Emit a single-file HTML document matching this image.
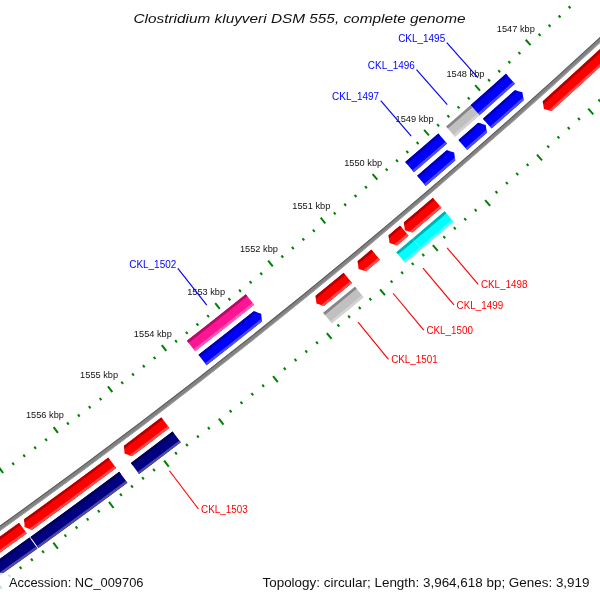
<!DOCTYPE html>
<html><head><meta charset="utf-8"><style>html,body{margin:0;padding:0;background:#fff;width:600px;height:600px;overflow:hidden}svg{display:block;will-change:transform}</style></head>
<body><svg width="600" height="600" viewBox="0 0 600 600">
<defs><clipPath id="c0"><path d="M698.13,-43.48 A6182.20,6182.20 0 0 1 542.71,101.16 L543.95,108.99 L551.60,111.05 A6195.50,6195.50 0 0 0 707.35,-33.90 Z"/></clipPath><clipPath id="c1"><path d="M432.83,197.63 A6182.20,6182.20 0 0 1 403.86,222.31 L404.86,230.17 L412.45,232.46 A6195.50,6195.50 0 0 0 441.48,207.72 Z"/></clipPath><clipPath id="c2"><path d="M400.04,225.54 A6182.20,6182.20 0 0 1 388.55,235.22 L389.53,243.09 L397.11,245.40 A6195.50,6195.50 0 0 0 408.62,235.70 Z"/></clipPath><clipPath id="c3"><path d="M371.43,249.57 A6182.20,6182.20 0 0 1 357.65,261.04 L358.58,268.91 L366.15,271.27 A6195.50,6195.50 0 0 0 379.96,259.78 Z"/></clipPath><clipPath id="c4"><path d="M343.61,272.66 A6182.20,6182.20 0 0 1 315.58,295.65 L316.44,303.52 L323.98,305.96 A6195.50,6195.50 0 0 0 352.08,282.92 Z"/></clipPath><clipPath id="c5"><path d="M161.33,417.36 A6182.20,6182.20 0 0 1 123.97,445.67 L124.52,453.57 L131.96,456.30 A6195.50,6195.50 0 0 0 169.40,427.93 Z"/></clipPath><clipPath id="c6"><path d="M108.26,457.44 A6182.20,6182.20 0 0 1 24.20,519.11 L24.59,527.02 L31.98,529.90 A6195.50,6195.50 0 0 0 116.22,468.09 Z"/></clipPath><clipPath id="c7"><path d="M19.08,522.80 A6182.20,6182.20 0 0 1 -109.22,612.63 L-109.04,620.56 L-101.73,623.63 A6195.50,6195.50 0 0 0 26.85,533.59 Z"/></clipPath><clipPath id="c14"><path d="M482.80,118.64 A6155.40,6155.40 0 0 0 514.77,90.22 L522.40,92.31 L523.64,100.13 A6168.70,6168.70 0 0 1 491.60,128.61 Z"/></clipPath><clipPath id="c15"><path d="M458.37,140.09 A6155.40,6155.40 0 0 0 478.08,122.80 L485.70,124.95 L486.88,132.78 A6168.70,6168.70 0 0 1 467.12,150.11 Z"/></clipPath><clipPath id="c16"><path d="M417.05,175.85 A6155.40,6155.40 0 0 0 446.56,150.37 L454.17,152.58 L455.29,160.41 A6168.70,6168.70 0 0 1 425.71,185.95 Z"/></clipPath><clipPath id="c17"><path d="M198.41,354.86 A6155.40,6155.40 0 0 0 253.65,311.21 L261.15,313.72 L261.95,321.59 A6168.70,6168.70 0 0 1 206.60,365.34 Z"/></clipPath></defs>
<rect width="600" height="600" fill="#fff"/>
<g stroke="#008000" stroke-width="2"><line x1="911.05" y1="-342.48" x2="916.41" y2="-337.53"/><line x1="979.47" y1="-279.35" x2="985.06" y2="-274.19"/><line x1="904.99" y1="-329.59" x2="907.04" y2="-327.69"/><line x1="970.12" y1="-269.23" x2="972.17" y2="-267.32"/><line x1="895.74" y1="-319.64" x2="897.79" y2="-317.73"/><line x1="960.74" y1="-259.13" x2="962.79" y2="-257.22"/><line x1="886.48" y1="-309.70" x2="888.52" y2="-307.79"/><line x1="951.34" y1="-249.05" x2="953.38" y2="-247.14"/><line x1="877.19" y1="-299.79" x2="879.23" y2="-297.88"/><line x1="941.92" y1="-239.00" x2="943.96" y2="-237.08"/><line x1="864.75" y1="-292.85" x2="870.06" y2="-287.84"/><line x1="932.47" y1="-228.96" x2="938.00" y2="-223.75"/><line x1="858.54" y1="-280.03" x2="860.58" y2="-278.10"/><line x1="923.00" y1="-218.95" x2="925.03" y2="-217.03"/><line x1="849.19" y1="-270.18" x2="851.22" y2="-268.25"/><line x1="913.51" y1="-208.96" x2="915.54" y2="-207.03"/><line x1="839.81" y1="-260.35" x2="841.84" y2="-258.42"/><line x1="904.00" y1="-198.99" x2="906.02" y2="-197.05"/><line x1="830.42" y1="-250.54" x2="832.44" y2="-248.60"/><line x1="894.47" y1="-189.04" x2="896.49" y2="-187.10"/><line x1="817.90" y1="-243.74" x2="823.16" y2="-238.67"/><line x1="884.91" y1="-179.11" x2="890.38" y2="-173.83"/><line x1="811.56" y1="-230.99" x2="813.57" y2="-229.04"/><line x1="875.33" y1="-169.20" x2="877.34" y2="-167.25"/><line x1="802.09" y1="-221.24" x2="804.10" y2="-219.29"/><line x1="865.73" y1="-159.31" x2="867.74" y2="-157.36"/><line x1="792.61" y1="-211.52" x2="794.61" y2="-209.56"/><line x1="856.11" y1="-149.45" x2="858.11" y2="-147.49"/><line x1="783.10" y1="-201.82" x2="785.10" y2="-199.85"/><line x1="846.47" y1="-139.60" x2="848.46" y2="-137.64"/><line x1="770.51" y1="-195.15" x2="775.71" y2="-190.03"/><line x1="836.80" y1="-129.78" x2="842.21" y2="-124.44"/><line x1="764.03" y1="-182.47" x2="766.02" y2="-180.50"/><line x1="827.11" y1="-119.98" x2="829.10" y2="-118.01"/><line x1="754.46" y1="-172.83" x2="756.44" y2="-170.86"/><line x1="817.41" y1="-110.20" x2="819.39" y2="-108.23"/><line x1="744.86" y1="-163.21" x2="746.84" y2="-161.23"/><line x1="807.67" y1="-100.44" x2="809.66" y2="-98.46"/><line x1="735.25" y1="-153.62" x2="737.23" y2="-151.63"/><line x1="797.92" y1="-90.71" x2="799.90" y2="-88.72"/><line x1="722.59" y1="-147.09" x2="727.73" y2="-141.91"/><line x1="788.15" y1="-80.99" x2="793.50" y2="-75.59"/><line x1="715.96" y1="-134.49" x2="717.93" y2="-132.49"/><line x1="778.35" y1="-71.30" x2="780.32" y2="-69.30"/><line x1="706.29" y1="-124.95" x2="708.25" y2="-122.95"/><line x1="768.54" y1="-61.63" x2="770.50" y2="-59.63"/><line x1="696.59" y1="-115.44" x2="698.55" y2="-113.44"/><line x1="758.70" y1="-51.98" x2="760.66" y2="-49.97"/><line x1="686.87" y1="-105.95" x2="688.82" y2="-103.94"/><line x1="748.84" y1="-42.35" x2="750.79" y2="-40.34"/><line x1="674.14" y1="-99.57" x2="679.22" y2="-94.33"/><line x1="738.96" y1="-32.74" x2="744.25" y2="-27.29"/><line x1="667.37" y1="-87.03" x2="669.31" y2="-85.02"/><line x1="729.06" y1="-23.16" x2="731.00" y2="-21.14"/><line x1="657.59" y1="-77.61" x2="659.53" y2="-75.59"/><line x1="719.13" y1="-13.60" x2="721.07" y2="-11.58"/><line x1="647.79" y1="-68.20" x2="649.72" y2="-66.18"/><line x1="709.19" y1="-4.06" x2="711.13" y2="-2.03"/><line x1="637.96" y1="-58.82" x2="639.89" y2="-56.79"/><line x1="699.22" y1="5.46" x2="701.16" y2="7.49"/><line x1="625.16" y1="-52.58" x2="630.18" y2="-47.28"/><line x1="689.24" y1="14.96" x2="694.47" y2="20.47"/><line x1="618.25" y1="-40.12" x2="620.18" y2="-38.09"/><line x1="679.23" y1="24.43" x2="681.15" y2="26.47"/><line x1="608.37" y1="-30.81" x2="610.29" y2="-28.77"/><line x1="669.20" y1="33.88" x2="671.12" y2="35.92"/><line x1="598.46" y1="-21.51" x2="600.38" y2="-19.47"/><line x1="659.15" y1="43.31" x2="661.07" y2="45.36"/><line x1="588.54" y1="-12.24" x2="590.44" y2="-10.19"/><line x1="649.08" y1="52.72" x2="650.99" y2="54.77"/><line x1="575.66" y1="-6.14" x2="580.63" y2="-0.79"/><line x1="638.99" y1="62.11" x2="644.16" y2="67.68"/><line x1="568.62" y1="6.24" x2="570.52" y2="8.30"/><line x1="628.88" y1="71.47" x2="630.78" y2="73.52"/><line x1="558.63" y1="15.45" x2="560.53" y2="17.51"/><line x1="618.75" y1="80.81" x2="620.64" y2="82.87"/><line x1="548.62" y1="24.63" x2="550.52" y2="26.70"/><line x1="608.59" y1="90.12" x2="610.48" y2="92.19"/><line x1="538.60" y1="33.79" x2="540.48" y2="35.86"/><line x1="598.42" y1="99.42" x2="600.30" y2="101.49"/><line x1="525.66" y1="39.75" x2="530.56" y2="45.16"/><line x1="588.22" y1="108.69" x2="593.33" y2="114.32"/><line x1="518.48" y1="52.05" x2="520.35" y2="54.13"/><line x1="578.01" y1="117.94" x2="579.89" y2="120.02"/><line x1="508.39" y1="61.15" x2="510.26" y2="63.23"/><line x1="567.77" y1="127.17" x2="569.65" y2="129.25"/><line x1="498.28" y1="70.22" x2="500.15" y2="72.31"/><line x1="557.52" y1="136.37" x2="559.38" y2="138.46"/><line x1="488.15" y1="79.27" x2="490.01" y2="81.36"/><line x1="547.24" y1="145.55" x2="549.10" y2="147.64"/><line x1="475.15" y1="85.08" x2="479.99" y2="90.54"/><line x1="536.94" y1="154.71" x2="541.99" y2="160.40"/><line x1="467.83" y1="97.30" x2="469.68" y2="99.40"/><line x1="526.63" y1="163.85" x2="528.48" y2="165.95"/><line x1="457.64" y1="106.29" x2="459.49" y2="108.39"/><line x1="516.29" y1="172.96" x2="518.14" y2="175.07"/><line x1="447.43" y1="115.25" x2="449.28" y2="117.35"/><line x1="505.93" y1="182.05" x2="507.78" y2="184.16"/><line x1="437.20" y1="124.18" x2="439.04" y2="126.30"/><line x1="495.55" y1="191.12" x2="497.39" y2="193.23"/><line x1="424.13" y1="129.85" x2="428.92" y2="135.37"/><line x1="485.16" y1="200.16" x2="490.14" y2="205.90"/><line x1="416.68" y1="141.99" x2="418.51" y2="144.11"/><line x1="474.74" y1="209.19" x2="476.57" y2="211.30"/><line x1="406.40" y1="150.86" x2="408.22" y2="152.98"/><line x1="464.30" y1="218.18" x2="466.13" y2="220.31"/><line x1="396.09" y1="159.71" x2="397.91" y2="161.83"/><line x1="453.84" y1="227.16" x2="455.67" y2="229.28"/><line x1="385.76" y1="168.53" x2="387.58" y2="170.66"/><line x1="443.37" y1="236.11" x2="445.18" y2="238.24"/><line x1="372.63" y1="174.05" x2="377.35" y2="179.62"/><line x1="432.87" y1="245.04" x2="437.79" y2="250.83"/><line x1="365.05" y1="186.11" x2="366.85" y2="188.25"/><line x1="422.35" y1="253.94" x2="424.16" y2="256.08"/><line x1="354.66" y1="194.87" x2="356.46" y2="197.01"/><line x1="411.82" y1="262.83" x2="413.62" y2="264.97"/><line x1="344.25" y1="203.60" x2="346.05" y2="205.74"/><line x1="401.26" y1="271.68" x2="403.06" y2="273.83"/><line x1="333.83" y1="212.31" x2="335.62" y2="214.46"/><line x1="390.69" y1="280.52" x2="392.48" y2="282.67"/><line x1="320.64" y1="217.68" x2="325.30" y2="223.30"/><line x1="380.09" y1="289.33" x2="384.94" y2="295.18"/><line x1="312.92" y1="229.65" x2="314.71" y2="231.81"/><line x1="369.47" y1="298.12" x2="371.26" y2="300.28"/><line x1="302.44" y1="238.29" x2="304.22" y2="240.46"/><line x1="358.84" y1="306.88" x2="360.62" y2="309.05"/><line x1="291.94" y1="246.91" x2="293.71" y2="249.08"/><line x1="348.19" y1="315.62" x2="349.96" y2="317.79"/><line x1="281.42" y1="255.50" x2="283.19" y2="257.67"/><line x1="337.51" y1="324.34" x2="339.28" y2="326.51"/><line x1="268.17" y1="260.73" x2="272.77" y2="266.40"/><line x1="326.82" y1="333.03" x2="331.61" y2="338.94"/><line x1="260.32" y1="272.62" x2="262.08" y2="274.80"/><line x1="316.11" y1="341.70" x2="317.87" y2="343.88"/><line x1="249.74" y1="281.14" x2="251.50" y2="283.32"/><line x1="305.38" y1="350.35" x2="307.13" y2="352.53"/><line x1="239.15" y1="289.64" x2="240.89" y2="291.83"/><line x1="294.63" y1="358.97" x2="296.38" y2="361.16"/><line x1="228.53" y1="298.12" x2="230.27" y2="300.31"/><line x1="283.86" y1="367.57" x2="285.60" y2="369.76"/><line x1="215.22" y1="303.20" x2="219.76" y2="308.92"/><line x1="273.07" y1="376.15" x2="277.79" y2="382.10"/><line x1="207.24" y1="315.00" x2="208.98" y2="317.19"/><line x1="262.27" y1="384.70" x2="264.00" y2="386.89"/><line x1="196.57" y1="323.40" x2="198.30" y2="325.60"/><line x1="251.44" y1="393.22" x2="253.17" y2="395.42"/><line x1="185.88" y1="331.78" x2="187.61" y2="333.99"/><line x1="240.59" y1="401.73" x2="242.32" y2="403.93"/><line x1="175.17" y1="340.14" x2="176.89" y2="342.35"/><line x1="229.73" y1="410.20" x2="231.45" y2="412.41"/><line x1="161.81" y1="345.08" x2="166.28" y2="350.85"/><line x1="218.85" y1="418.66" x2="223.50" y2="424.67"/><line x1="153.70" y1="356.78" x2="155.41" y2="359.00"/><line x1="207.95" y1="427.09" x2="209.66" y2="429.31"/><line x1="142.94" y1="365.07" x2="144.64" y2="367.29"/><line x1="197.03" y1="435.50" x2="198.73" y2="437.72"/><line x1="132.16" y1="373.33" x2="133.86" y2="375.56"/><line x1="186.09" y1="443.88" x2="187.79" y2="446.10"/><line x1="121.35" y1="381.57" x2="123.05" y2="383.80"/><line x1="175.13" y1="452.23" x2="176.83" y2="454.46"/><line x1="107.94" y1="386.36" x2="112.35" y2="392.18"/><line x1="164.16" y1="460.57" x2="168.75" y2="466.63"/><line x1="99.70" y1="397.98" x2="101.38" y2="400.21"/><line x1="153.16" y1="468.88" x2="154.85" y2="471.11"/><line x1="88.84" y1="406.14" x2="90.53" y2="408.38"/><line x1="142.15" y1="477.16" x2="143.83" y2="479.40"/><line x1="77.97" y1="414.28" x2="79.65" y2="416.53"/><line x1="131.12" y1="485.42" x2="132.80" y2="487.67"/><line x1="67.08" y1="422.40" x2="68.75" y2="424.65"/><line x1="120.07" y1="493.66" x2="121.74" y2="495.91"/><line x1="53.61" y1="427.04" x2="57.96" y2="432.91"/><line x1="109.00" y1="501.87" x2="113.53" y2="507.98"/><line x1="45.24" y1="438.57" x2="46.91" y2="440.82"/><line x1="97.92" y1="510.06" x2="99.58" y2="512.31"/><line x1="34.30" y1="446.61" x2="35.96" y2="448.87"/><line x1="86.82" y1="518.22" x2="88.47" y2="520.48"/><line x1="23.34" y1="454.63" x2="24.99" y2="456.89"/><line x1="75.69" y1="526.36" x2="77.35" y2="528.62"/><line x1="12.36" y1="462.63" x2="14.00" y2="464.90"/><line x1="64.55" y1="534.47" x2="66.20" y2="536.73"/><line x1="-1.16" y1="467.12" x2="3.12" y2="473.03"/><line x1="53.40" y1="542.56" x2="57.85" y2="548.72"/><line x1="-9.66" y1="478.55" x2="-8.02" y2="480.82"/><line x1="42.22" y1="550.62" x2="43.86" y2="552.89"/><line x1="-20.69" y1="486.48" x2="-19.06" y2="488.75"/><line x1="31.03" y1="558.66" x2="32.66" y2="560.94"/><line x1="-31.74" y1="494.37" x2="-30.12" y2="496.65"/><line x1="19.82" y1="566.67" x2="21.44" y2="568.95"/><line x1="-42.81" y1="502.25" x2="-41.19" y2="504.53"/><line x1="8.59" y1="574.66" x2="10.21" y2="576.95"/><line x1="-56.38" y1="506.59" x2="-52.16" y2="512.55"/><line x1="-2.66" y1="582.63" x2="1.73" y2="588.83"/><line x1="-65.00" y1="517.93" x2="-63.39" y2="520.22"/><line x1="-13.92" y1="590.56" x2="-12.31" y2="592.86"/><line x1="-76.12" y1="525.73" x2="-74.51" y2="528.02"/><line x1="-25.20" y1="598.48" x2="-23.60" y2="600.77"/><line x1="-87.26" y1="533.50" x2="-85.66" y2="535.80"/><line x1="-36.50" y1="606.37" x2="-34.90" y2="608.67"/><line x1="-98.41" y1="541.25" x2="-96.82" y2="543.56"/><line x1="-47.82" y1="614.23" x2="-46.22" y2="616.53"/><line x1="-112.03" y1="545.44" x2="-107.88" y2="551.45"/><line x1="-59.15" y1="622.07" x2="-54.84" y2="628.33"/><line x1="-120.77" y1="556.68" x2="-119.19" y2="558.99"/><line x1="-70.50" y1="629.88" x2="-68.92" y2="632.19"/><line x1="-131.98" y1="564.36" x2="-130.40" y2="566.67"/><line x1="-81.87" y1="637.67" x2="-80.29" y2="639.99"/><line x1="-143.20" y1="572.01" x2="-141.63" y2="574.33"/><line x1="-93.26" y1="645.44" x2="-91.68" y2="647.75"/><line x1="-154.44" y1="579.64" x2="-152.87" y2="581.96"/><line x1="-104.66" y1="653.18" x2="-103.09" y2="655.49"/><line x1="-168.10" y1="583.68" x2="-164.02" y2="589.73"/><line x1="-116.08" y1="660.89" x2="-111.83" y2="667.19"/><line x1="-176.97" y1="594.82" x2="-175.41" y2="597.15"/><line x1="-127.52" y1="668.58" x2="-125.96" y2="670.90"/><line x1="-188.26" y1="602.37" x2="-186.71" y2="604.70"/><line x1="-138.97" y1="676.24" x2="-137.42" y2="678.57"/><line x1="-199.57" y1="609.90" x2="-198.02" y2="612.23"/><line x1="-150.44" y1="683.87" x2="-148.89" y2="686.21"/><line x1="-210.89" y1="617.41" x2="-209.35" y2="619.74"/><line x1="-161.93" y1="691.49" x2="-160.39" y2="693.82"/><line x1="-224.60" y1="621.29" x2="-220.59" y2="627.39"/><line x1="-173.43" y1="699.07" x2="-169.26" y2="705.42"/><line x1="-233.59" y1="632.33" x2="-232.06" y2="634.68"/><line x1="-184.96" y1="706.63" x2="-183.42" y2="708.97"/><line x1="-244.97" y1="639.76" x2="-243.44" y2="642.11"/><line x1="-196.49" y1="714.17" x2="-194.97" y2="716.51"/><line x1="-256.36" y1="647.16" x2="-254.83" y2="649.51"/><line x1="-208.05" y1="721.68" x2="-206.53" y2="724.03"/><line x1="-267.76" y1="654.54" x2="-266.24" y2="656.89"/><line x1="-219.62" y1="729.16" x2="-218.10" y2="731.51"/><line x1="-281.51" y1="658.27" x2="-277.56" y2="664.42"/><line x1="-231.21" y1="736.62" x2="-227.10" y2="743.01"/><line x1="-290.62" y1="669.22" x2="-289.12" y2="671.58"/><line x1="-242.81" y1="744.05" x2="-241.31" y2="746.41"/><line x1="-302.08" y1="676.52" x2="-300.58" y2="678.88"/><line x1="-254.43" y1="751.46" x2="-252.93" y2="753.82"/><line x1="-313.55" y1="683.79" x2="-312.05" y2="686.16"/><line x1="-266.07" y1="758.84" x2="-264.58" y2="761.20"/><line x1="-325.04" y1="691.04" x2="-323.54" y2="693.41"/><line x1="-277.73" y1="766.19" x2="-276.23" y2="768.56"/></g>
<g font-family="Liberation Sans" font-size="9" fill="#111"><text x="515.85" y="31.94" text-anchor="middle" textLength="38" lengthAdjust="spacingAndGlyphs">1547 kbp</text><text x="465.45" y="77.16" text-anchor="middle" textLength="38" lengthAdjust="spacingAndGlyphs">1548 kbp</text><text x="414.56" y="121.83" text-anchor="middle" textLength="38" lengthAdjust="spacingAndGlyphs">1549 kbp</text><text x="363.18" y="165.92" text-anchor="middle" textLength="38" lengthAdjust="spacingAndGlyphs">1550 kbp</text><text x="311.32" y="209.45" text-anchor="middle" textLength="38" lengthAdjust="spacingAndGlyphs">1551 kbp</text><text x="258.97" y="252.39" text-anchor="middle" textLength="38" lengthAdjust="spacingAndGlyphs">1552 kbp</text><text x="206.15" y="294.76" text-anchor="middle" textLength="38" lengthAdjust="spacingAndGlyphs">1553 kbp</text><text x="152.87" y="336.54" text-anchor="middle" textLength="38" lengthAdjust="spacingAndGlyphs">1554 kbp</text><text x="99.12" y="377.72" text-anchor="middle" textLength="38" lengthAdjust="spacingAndGlyphs">1555 kbp</text><text x="44.93" y="418.31" text-anchor="middle" textLength="38" lengthAdjust="spacingAndGlyphs">1556 kbp</text></g>
<path d="M691.95,-49.89 A6173.30,6173.30 0 0 1 -114.24,605.28 L-111.76,608.92 A6177.70,6177.70 0 0 0 695.00,-46.72 Z" fill="#828282"/><path d="M691.95,-49.89 A6173.30,6173.30 0 0 1 -114.24,605.28 L-113.67,606.11 A6174.30,6174.30 0 0 0 692.64,-49.17 Z" fill="#5c5c5c"/><path d="M694.45,-47.30 A6176.90,6176.90 0 0 1 -112.21,608.25 L-111.76,608.92 A6177.70,6177.70 0 0 0 695.00,-46.72 Z" fill="#a0a0a0"/>
<path d="M698.13,-43.48 A6182.20,6182.20 0 0 1 542.71,101.16 L543.95,108.99 L551.60,111.05 A6195.50,6195.50 0 0 0 707.35,-33.90 Z" fill="#ff0000"/><g clip-path="url(#c0)"><path d="M698.13,-43.48 A6182.20,6182.20 0 0 1 539.50,104.04 L541.31,106.05 A6184.90,6184.90 0 0 0 700.00,-41.54 Z" fill="#b20000"/><path d="M705.62,-35.70 A6193.00,6193.00 0 0 1 546.72,112.07 L548.39,113.93 A6195.50,6195.50 0 0 0 707.35,-33.90 Z" fill="#ff4c4c"/></g><path d="M432.83,197.63 A6182.20,6182.20 0 0 1 403.86,222.31 L404.86,230.17 L412.45,232.46 A6195.50,6195.50 0 0 0 441.48,207.72 Z" fill="#ff0000"/><g clip-path="url(#c1)"><path d="M432.83,197.63 A6182.20,6182.20 0 0 1 400.57,225.09 L402.31,227.15 A6184.90,6184.90 0 0 0 434.59,199.68 Z" fill="#b20000"/><path d="M439.86,205.83 A6193.00,6193.00 0 0 1 407.54,233.33 L409.16,235.24 A6195.50,6195.50 0 0 0 441.48,207.72 Z" fill="#ff4c4c"/></g><path d="M400.04,225.54 A6182.20,6182.20 0 0 1 388.55,235.22 L389.53,243.09 L397.11,245.40 A6195.50,6195.50 0 0 0 408.62,235.70 Z" fill="#ff0000"/><g clip-path="url(#c2)"><path d="M400.04,225.54 A6182.20,6182.20 0 0 1 385.25,237.99 L386.99,240.06 A6184.90,6184.90 0 0 0 401.78,227.60 Z" fill="#b20000"/><path d="M407.01,233.79 A6193.00,6193.00 0 0 1 392.20,246.26 L393.81,248.18 A6195.50,6195.50 0 0 0 408.62,235.70 Z" fill="#ff4c4c"/></g><path d="M371.43,249.57 A6182.20,6182.20 0 0 1 357.65,261.04 L358.58,268.91 L366.15,271.27 A6195.50,6195.50 0 0 0 379.96,259.78 Z" fill="#ff0000"/><g clip-path="url(#c3)"><path d="M371.43,249.57 A6182.20,6182.20 0 0 1 354.34,263.79 L356.06,265.86 A6184.90,6184.90 0 0 0 373.16,251.64 Z" fill="#b20000"/><path d="M378.35,257.86 A6193.00,6193.00 0 0 1 361.23,272.10 L362.83,274.03 A6195.50,6195.50 0 0 0 379.96,259.78 Z" fill="#ff4c4c"/></g><path d="M343.61,272.66 A6182.20,6182.20 0 0 1 315.58,295.65 L316.44,303.52 L323.98,305.96 A6195.50,6195.50 0 0 0 352.08,282.92 Z" fill="#ff0000"/><g clip-path="url(#c4)"><path d="M343.61,272.66 A6182.20,6182.20 0 0 1 312.24,298.37 L313.94,300.46 A6184.90,6184.90 0 0 0 345.33,274.74 Z" fill="#b20000"/><path d="M350.48,280.99 A6193.00,6193.00 0 0 1 319.06,306.74 L320.64,308.68 A6195.50,6195.50 0 0 0 352.08,282.92 Z" fill="#ff4c4c"/></g><path d="M161.33,417.36 A6182.20,6182.20 0 0 1 123.97,445.67 L124.52,453.57 L131.96,456.30 A6195.50,6195.50 0 0 0 169.40,427.93 Z" fill="#ff0000"/><g clip-path="url(#c5)"><path d="M161.33,417.36 A6182.20,6182.20 0 0 1 120.53,448.25 L122.15,450.41 A6184.90,6184.90 0 0 0 162.97,419.51 Z" fill="#b20000"/><path d="M167.88,425.95 A6193.00,6193.00 0 0 1 127.01,456.89 L128.51,458.89 A6195.50,6195.50 0 0 0 169.40,427.93 Z" fill="#ff4c4c"/></g><path d="M108.26,457.44 A6182.20,6182.20 0 0 1 24.20,519.11 L24.59,527.02 L31.98,529.90 A6195.50,6195.50 0 0 0 116.22,468.09 Z" fill="#ff0000"/><g clip-path="url(#c6)"><path d="M108.26,457.44 A6182.20,6182.20 0 0 1 20.71,521.63 L22.29,523.82 A6184.90,6184.90 0 0 0 109.88,459.60 Z" fill="#b20000"/><path d="M114.72,466.09 A6193.00,6193.00 0 0 1 27.02,530.39 L28.48,532.42 A6195.50,6195.50 0 0 0 116.22,468.09 Z" fill="#ff4c4c"/></g><path d="M19.08,522.80 A6182.20,6182.20 0 0 1 -109.22,612.63 L-109.04,620.56 L-101.73,623.63 A6195.50,6195.50 0 0 0 26.85,533.59 Z" fill="#ff0000"/><g clip-path="url(#c7)"><path d="M19.08,522.80 A6182.20,6182.20 0 0 1 -112.78,615.06 L-111.26,617.29 A6184.90,6184.90 0 0 0 20.66,524.99 Z" fill="#b20000"/><path d="M25.39,531.56 A6193.00,6193.00 0 0 1 -106.71,623.99 L-105.30,626.05 A6195.50,6195.50 0 0 0 26.85,533.59 Z" fill="#ff4c4c"/></g><path d="M444.61,211.37 A6200.30,6200.30 0 0 1 412.49,238.72 L421.27,249.10 A6213.90,6213.90 0 0 0 453.46,221.69 Z" fill="#00ffff"/><path d="M444.61,211.37 A6200.30,6200.30 0 0 1 412.49,238.72 L414.23,240.78 A6203.00,6203.00 0 0 0 446.37,213.42 Z" fill="#00b2b2"/><path d="M451.83,219.80 A6211.40,6211.40 0 0 1 419.65,247.19 L421.27,249.10 A6213.90,6213.90 0 0 0 453.46,221.69 Z" fill="#4cffff"/><path d="M412.33,238.84 A6200.30,6200.30 0 0 1 396.36,252.31 L405.10,262.72 A6213.90,6213.90 0 0 0 421.11,249.23 Z" fill="#00ffff"/><path d="M412.33,238.84 A6200.30,6200.30 0 0 1 396.36,252.31 L398.09,254.37 A6203.00,6203.00 0 0 0 414.08,240.91 Z" fill="#00b2b2"/><path d="M419.50,247.32 A6211.40,6211.40 0 0 1 403.49,260.81 L405.10,262.72 A6213.90,6213.90 0 0 0 421.11,249.23 Z" fill="#4cffff"/><path d="M354.98,286.75 A6200.30,6200.30 0 0 1 323.20,312.78 L331.78,323.33 A6213.90,6213.90 0 0 0 363.63,297.24 Z" fill="#c0c0c0"/><path d="M354.98,286.75 A6200.30,6200.30 0 0 1 323.20,312.78 L324.90,314.88 A6203.00,6203.00 0 0 0 356.69,288.83 Z" fill="#868686"/><path d="M362.04,295.31 A6211.40,6211.40 0 0 1 330.21,321.39 L331.78,323.33 A6213.90,6213.90 0 0 0 363.63,297.24 Z" fill="#d3d3d3"/><path d="M172.55,431.57 A6200.30,6200.30 0 0 1 130.91,463.09 L139.07,473.97 A6213.90,6213.90 0 0 0 180.81,442.37 Z" fill="#000080"/><path d="M172.55,431.57 A6200.30,6200.30 0 0 1 130.91,463.09 L132.53,465.25 A6203.00,6203.00 0 0 0 174.19,433.71 Z" fill="#00005a"/><path d="M179.29,440.39 A6211.40,6211.40 0 0 1 137.57,471.97 L139.07,473.97 A6213.90,6213.90 0 0 0 180.81,442.37 Z" fill="#4c4ca6"/><path d="M119.25,471.82 A6200.30,6200.30 0 0 1 30.47,536.90 L38.41,547.94 A6213.90,6213.90 0 0 0 127.39,482.72 Z" fill="#000080"/><path d="M119.25,471.82 A6200.30,6200.30 0 0 1 30.47,536.90 L32.04,539.10 A6203.00,6203.00 0 0 0 120.87,473.98 Z" fill="#00005a"/><path d="M125.89,480.71 A6211.40,6211.40 0 0 1 36.95,545.91 L38.41,547.94 A6213.90,6213.90 0 0 0 127.39,482.72 Z" fill="#4c4ca6"/><path d="M29.57,537.55 A6200.30,6200.30 0 0 1 -99.03,627.59 L-91.37,638.83 A6213.90,6213.90 0 0 0 37.51,548.59 Z" fill="#000080"/><path d="M29.57,537.55 A6200.30,6200.30 0 0 1 -99.03,627.59 L-97.51,629.82 A6203.00,6203.00 0 0 0 31.15,539.74 Z" fill="#00005a"/><path d="M36.05,546.56 A6211.40,6211.40 0 0 1 -92.78,636.76 L-91.37,638.83 A6213.90,6213.90 0 0 0 37.51,548.59 Z" fill="#4c4ca6"/><path d="M482.80,118.64 A6155.40,6155.40 0 0 0 514.77,90.22 L522.40,92.31 L523.64,100.13 A6168.70,6168.70 0 0 1 491.60,128.61 Z" fill="#0000ff"/><g clip-path="url(#c14)"><path d="M517.96,87.36 A6155.40,6155.40 0 0 1 482.80,118.64 L484.58,120.66 A6158.10,6158.10 0 0 0 519.77,89.37 Z" fill="#0000b2"/><path d="M525.17,95.40 A6166.20,6166.20 0 0 1 489.94,126.74 L491.60,128.61 A6168.70,6168.70 0 0 0 526.84,97.26 Z" fill="#4c4cff"/></g><path d="M458.37,140.09 A6155.40,6155.40 0 0 0 478.08,122.80 L485.70,124.95 L486.88,132.78 A6168.70,6168.70 0 0 1 467.12,150.11 Z" fill="#0000ff"/><g clip-path="url(#c15)"><path d="M481.30,119.96 A6155.40,6155.40 0 0 1 458.37,140.09 L460.14,142.12 A6158.10,6158.10 0 0 0 483.09,121.98 Z" fill="#0000b2"/><path d="M488.45,128.06 A6166.20,6166.20 0 0 1 465.47,148.22 L467.12,150.11 A6168.70,6168.70 0 0 0 490.10,129.93 Z" fill="#4c4cff"/></g><path d="M417.05,175.85 A6155.40,6155.40 0 0 0 446.56,150.37 L454.17,152.58 L455.29,160.41 A6168.70,6168.70 0 0 1 425.71,185.95 Z" fill="#0000ff"/><g clip-path="url(#c16)"><path d="M449.80,147.56 A6155.40,6155.40 0 0 1 417.05,175.85 L418.81,177.90 A6158.10,6158.10 0 0 0 451.57,149.60 Z" fill="#0000b2"/><path d="M456.89,155.71 A6166.20,6166.20 0 0 1 424.08,184.05 L425.71,185.95 A6168.70,6168.70 0 0 0 458.53,157.59 Z" fill="#4c4cff"/></g><path d="M198.41,354.86 A6155.40,6155.40 0 0 0 253.65,311.21 L261.15,313.72 L261.95,321.59 A6168.70,6168.70 0 0 1 206.60,365.34 Z" fill="#0000ff"/><g clip-path="url(#c17)"><path d="M256.99,308.53 A6155.40,6155.40 0 0 1 198.41,354.86 L200.08,356.99 A6158.10,6158.10 0 0 0 258.68,310.64 Z" fill="#0000b2"/><path d="M263.74,316.96 A6166.20,6166.20 0 0 1 205.06,363.37 L206.60,365.34 A6168.70,6168.70 0 0 0 265.31,318.91 Z" fill="#4c4cff"/></g><path d="M505.96,73.67 A6137.20,6137.20 0 0 1 470.53,105.19 L479.40,115.24 A6150.60,6150.60 0 0 0 514.91,83.65 Z" fill="#0000ff"/><path d="M505.96,73.67 A6137.20,6137.20 0 0 1 470.53,105.19 L472.32,107.22 A6139.90,6139.90 0 0 0 507.76,75.68 Z" fill="#0000b2"/><path d="M513.24,81.79 A6148.10,6148.10 0 0 1 477.74,113.37 L479.40,115.24 A6150.60,6150.60 0 0 0 514.91,83.65 Z" fill="#4c4cff"/><path d="M470.53,105.19 A6137.20,6137.20 0 0 1 446.17,126.58 L454.99,136.67 A6150.60,6150.60 0 0 0 479.40,115.24 Z" fill="#c0c0c0"/><path d="M470.53,105.19 A6137.20,6137.20 0 0 1 446.17,126.58 L447.95,128.61 A6139.90,6139.90 0 0 0 472.32,107.22 Z" fill="#868686"/><path d="M477.74,113.37 A6148.10,6148.10 0 0 1 453.34,134.79 L454.99,136.67 A6150.60,6150.60 0 0 0 479.40,115.24 Z" fill="#d3d3d3"/><path d="M438.30,133.44 A6137.20,6137.20 0 0 1 405.20,162.04 L413.93,172.21 A6150.60,6150.60 0 0 0 447.10,143.54 Z" fill="#0000ff"/><path d="M438.30,133.44 A6137.20,6137.20 0 0 1 405.20,162.04 L406.96,164.09 A6139.90,6139.90 0 0 0 440.08,135.47 Z" fill="#0000b2"/><path d="M445.46,141.66 A6148.10,6148.10 0 0 1 412.30,170.31 L413.93,172.21 A6150.60,6150.60 0 0 0 447.10,143.54 Z" fill="#4c4cff"/><path d="M245.77,294.20 A6137.20,6137.20 0 0 1 186.90,340.76 L195.15,351.32 A6150.60,6150.60 0 0 0 254.15,304.66 Z" fill="#ff1493"/><path d="M245.77,294.20 A6137.20,6137.20 0 0 1 186.90,340.76 L188.56,342.89 A6139.90,6139.90 0 0 0 247.46,296.31 Z" fill="#b20e67"/><path d="M252.59,302.71 A6148.10,6148.10 0 0 1 193.61,349.35 L195.15,351.32 A6150.60,6150.60 0 0 0 254.15,304.66 Z" fill="#ff5ab3"/>
<g font-family="Liberation Sans" font-size="10.5"><line x1="477.81" y1="77.63" x2="446.77" y2="42.74" stroke="#0000ff" stroke-width="1.15"/><text x="445.17" y="41.94" text-anchor="end" fill="#0000ff" textLength="47" lengthAdjust="spacingAndGlyphs">CKL_1495</text><line x1="447.27" y1="104.62" x2="416.46" y2="69.52" stroke="#0000ff" stroke-width="1.15"/><text x="414.86" y="68.72" text-anchor="end" fill="#0000ff" textLength="47" lengthAdjust="spacingAndGlyphs">CKL_1496</text><line x1="411.22" y1="136.01" x2="380.69" y2="100.67" stroke="#0000ff" stroke-width="1.15"/><text x="379.09" y="99.87" text-anchor="end" fill="#0000ff" textLength="47" lengthAdjust="spacingAndGlyphs">CKL_1497</text><line x1="206.80" y1="305.02" x2="177.83" y2="268.40" stroke="#0000ff" stroke-width="1.15"/><text x="176.23" y="267.60" text-anchor="end" fill="#0000ff" textLength="47" lengthAdjust="spacingAndGlyphs">CKL_1502</text><line x1="447.10" y1="247.77" x2="478.21" y2="284.32" stroke="#ff0000" stroke-width="1.15"/><text x="480.91" y="288.12" fill="#ff0000" textLength="46.5" lengthAdjust="spacingAndGlyphs">CKL_1498</text><line x1="423.00" y1="268.18" x2="453.92" y2="304.89" stroke="#ff0000" stroke-width="1.15"/><text x="456.62" y="308.69" fill="#ff0000" textLength="46.5" lengthAdjust="spacingAndGlyphs">CKL_1499</text><line x1="393.05" y1="293.25" x2="423.75" y2="330.16" stroke="#ff0000" stroke-width="1.15"/><text x="426.45" y="333.96" fill="#ff0000" textLength="46.5" lengthAdjust="spacingAndGlyphs">CKL_1500</text><line x1="358.03" y1="322.17" x2="388.46" y2="359.29" stroke="#ff0000" stroke-width="1.15"/><text x="391.16" y="363.09" fill="#ff0000" textLength="46.5" lengthAdjust="spacingAndGlyphs">CKL_1501</text><line x1="169.45" y1="470.73" x2="198.42" y2="509.00" stroke="#ff0000" stroke-width="1.15"/><text x="201.12" y="512.80" fill="#ff0000" textLength="46.5" lengthAdjust="spacingAndGlyphs">CKL_1503</text></g>
<rect x="0" y="573" width="600" height="27" fill="#fff" fill-opacity="0.8"/>
<text x="299.5" y="22.8" text-anchor="middle" font-family="Liberation Sans" font-style="italic" font-size="13.6" fill="#111" textLength="332" lengthAdjust="spacingAndGlyphs">Clostridium kluyveri DSM 555, complete genome</text>
<text x="9" y="587.3" font-family="Liberation Sans" font-size="13" fill="#111" textLength="134.5" lengthAdjust="spacingAndGlyphs">Accession: NC_009706</text>
<text x="589.5" y="587.3" text-anchor="end" font-family="Liberation Sans" font-size="13" fill="#111" textLength="327" lengthAdjust="spacingAndGlyphs">Topology: circular; Length: 3,964,618 bp; Genes: 3,919</text>
</svg></body></html>
